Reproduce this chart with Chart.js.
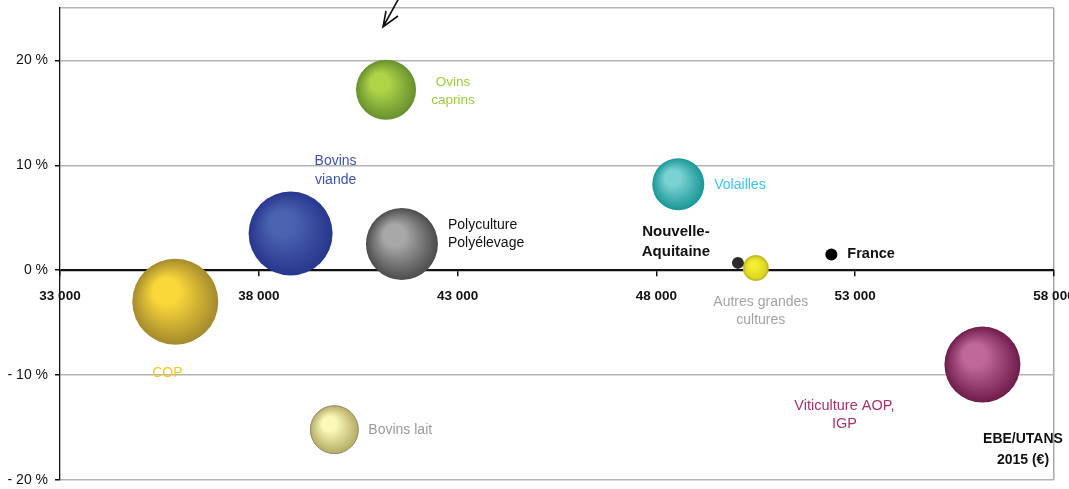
<!DOCTYPE html>
<html>
<head>
<meta charset="utf-8">
<script src="https://cdn.jsdelivr.net/npm/chart.js@4/dist/chart.umd.min.js"></script>
<style>
  html, body { margin: 0; padding: 0; background: #fff; }
  #wrap { width: 1069px; height: 489px; }
</style>
</head>
<body>
<div id="wrap"><canvas id="myChart"></canvas></div>
<script>
// orientations technico-economiques : EBE/UTANS 2015 (x) et evolution (y)
const groups = ['COP', 'Bovins viande', 'Polyculture Polyélevage', 'Ovins caprins', 'Bovins lait',
    'Volailles', 'Autres grandes cultures', 'Viticulture AOP, IGP', 'Nouvelle-Aquitaine', 'France'];
const ebe = [35900, 38800, 41600, 41200, 39900, 48550, 50500, 56200, 50050, 52400];
const evolution = [-3.0, 3.5, 2.5, 17.2, -15.2, 8.2, 0.2, -9.0, 0.7, 1.5];
const bubbleSize = [43, 42, 36, 30, 24, 26, 12, 38, 6, 6];
const xTicks = [33000, 38000, 43000, 48000, 53000, 58000];
const yTicks = [-20, -10, 0, 10, 20];

// couleurs des bulles : centre clair, bord fonce
const inner = ['#fbd83a', '#4a62b0', '#a8a8a8', '#b0d448', '#fbf8b8', '#7ad2d2', '#f4ee30', '#c0689a', '#2a2a2a', '#000000'];
const outer = ['#a48a2c', '#27368e', '#4c4c4c', '#66902e', '#b4ac64', '#1a9696', '#d8d020', '#6e1c4c', '#2a2a2a', '#000000'];
const rim = ['rgba(0,0,0,0)', 'rgba(0,0,0,0)', 'rgba(0,0,0,0)', 'rgba(0,0,0,0)', '#8a8a70',
    'rgba(0,0,0,0)', '#c4bc28', 'rgba(0,0,0,0)', 'rgba(0,0,0,0)', 'rgba(0,0,0,0)'];

// etiquettes : lignes, couleur, decalage par rapport a la bulle, alignement
const labelLines = [['COP'], ['Bovins', 'viande'], ['Polyculture', 'Polyélevage'], ['Ovins', 'caprins'], ['Bovins lait'],
    ['Volailles'], ['Autres grandes', 'cultures'], ['Viticulture AOP,', 'IGP'], ['Nouvelle-', 'Aquitaine'], ['France']];
const labelColor = ['#f7c81e', '#3f52a8', '#111111', '#9ccc3c', '#9a9a9a', '#3cc4ee', '#a4a4a4', '#a8326e', '#111111', '#111111'];
const labelStyle = [
    { dx: -8, dy: 71, align: 'center', size: 14 },
    { dx: 45, dy: -72, align: 'center', size: 14 },
    { dx: 46, dy: -19, align: 'left', size: 14 },
    { dx: 67, dy: -8, align: 'center', size: 13.5 },
    { dx: 34, dy: 0, align: 'left', size: 14 },
    { dx: 36, dy: 1, align: 'left', size: 14 },
    { dx: 5, dy: 34, align: 'center', size: 14 },
    { dx: -138, dy: 41, align: 'center', size: 14.5 },
    { dx: -62, dy: -31, align: 'center', size: 15, bold: true },
    { dx: 16, dy: 0, align: 'left', size: 14.5, bold: true }
];

// pas de marge automatique autour de la zone de trace pour les bulles
Chart.BubbleController.prototype.getMaxOverflow = function () { return 0; };

function fillBubble(context) {
    const chart = context.chart;
    const i = context.dataIndex;
    const p = context.raw;
    if (!chart.chartArea || !chart.scales.x || !p) return outer[i];
    const x = chart.scales.x.getPixelForValue(p.x);
    const y = chart.scales.y.getPixelForValue(p.y);
    const r = p.r;
    const g = chart.ctx.createRadialGradient(x - 0.3 * r, y - 0.35 * r, 0, x, y, r);
    g.addColorStop(0, inner[i]);
    g.addColorStop(0.3, inner[i]);
    g.addColorStop(1, outer[i]);
    return g;
}

const labelPlugin = {
    id: 'bubbleLabels',
    afterDatasetsDraw(chart) {
        const ctx = chart.ctx;
        const xs = chart.scales.x, ys = chart.scales.y;
        ctx.save();
        ctx.textBaseline = 'middle';
        groups.forEach(function (g, i) {
            const st = labelStyle[i];
            const x = xs.getPixelForValue(ebe[i]) + st.dx;
            const y = ys.getPixelForValue(evolution[i]) + st.dy;
            ctx.font = (st.bold ? 'bold ' : '') + st.size + 'px "Liberation Sans", Arial, sans-serif';
            ctx.fillStyle = labelColor[i];
            ctx.textAlign = st.align;
            const lh = st.bold ? 20 : 18.5;
            labelLines[i].forEach(function (line, k) {
                ctx.fillText(line, x, y + k * lh);
            });
        });

        // titre de l'axe des abscisses
        ctx.font = 'bold 14px "Liberation Sans", Arial, sans-serif';
        ctx.fillStyle = '#111';
        ctx.textAlign = 'center';
        ctx.fillText('EBE/UTANS', chart.chartArea.right - 31, 439);
        ctx.fillText('2015 (€)', chart.chartArea.right - 31, 460);

        // fleche en haut
        ctx.strokeStyle = '#111';
        ctx.lineWidth = 1.6;
        ctx.beginPath();
        ctx.moveTo(399, -2);
        ctx.lineTo(383, 27);
        ctx.moveTo(386, 11);
        ctx.lineTo(383, 27);
        ctx.lineTo(398, 16);
        ctx.stroke();
        ctx.restore();
    }
};

const ctx = document.getElementById('myChart').getContext('2d');
new Chart(ctx, {
    type: 'bubble',
    data: {
        datasets: [{
            label: 'OTEX',
            data: groups.map(function (g, i) {
                return { x: ebe[i], y: evolution[i], r: bubbleSize[i] };
            }),
            backgroundColor: fillBubble,
            borderColor: rim,
            borderWidth: [0, 0, 0, 0, 1, 0, 2, 0, 0, 0],
            hoverRadius: 0,
            clip: false
        }]
    },
    options: {
        responsive: true,
        maintainAspectRatio: false,
        animation: false,
        events: [],
        layout: { padding: { top: 8, right: 15, bottom: 9, left: 0 } },
        plugins: {
            legend: { display: false },
            tooltip: { enabled: false }
        },
        scales: {
            x: {
                type: 'linear',
                position: { y: 0 },
                min: xTicks[0],
                max: xTicks[xTicks.length - 1],
                afterBuildTicks: function (axis) {
                    axis.ticks = xTicks.map(function (v) { return { value: v }; });
                },
                afterFit: function (axis) {
                    axis.height = 0;
                    axis.paddingLeft = 0;
                    axis.paddingRight = 0;
                },
                border: { color: '#111', width: 1.3 },
                grid: {
                    drawOnChartArea: true,
                    color: function (c) {
                        return c.tick && c.tick.value === xTicks[xTicks.length - 1] ? '#a8a8a8' : 'rgba(0,0,0,0)';
                    },
                    lineWidth: 1.5,
                    tickColor: '#111',
                    tickLength: 5
                },
                ticks: {
                    padding: 13,
                    maxRotation: 0,
                    color: '#111',
                    font: { family: '"Liberation Sans", Arial, sans-serif', size: 13.5, weight: 'bold' },
                    callback: function (v) {
                        return String(v).replace(/\B(?=(\d{3})+(?!\d))/g, ' ');
                    }
                }
            },
            y: {
                type: 'linear',
                min: -20,
                max: 25,
                afterBuildTicks: function (axis) {
                    axis.ticks = yTicks.concat([25]).map(function (v) { return { value: v }; });
                },
                afterFit: function (axis) {
                    axis.width = 60;
                    axis.paddingTop = 0;
                    axis.paddingBottom = 0;
                },
                border: { color: '#111', width: 1.3 },
                grid: {
                    color: function (c) {
                        return c.tick && c.tick.value === 0 ? '#111' : '#b4b4b4';
                    },
                    lineWidth: 1.5,
                    tickColor: function (c) {
                        return c.tick && c.tick.value === 25 ? 'rgba(0,0,0,0)' : '#111';
                    },
                    tickLength: 5
                },
                ticks: {
                    padding: 7,
                    color: '#111',
                    font: { family: '"Liberation Sans", Arial, sans-serif', size: 14 },
                    callback: function (v) {
                        if (v === 25) return '';
                        return v < 0 ? '- ' + Math.abs(v) + ' %' : v + ' %';
                    }
                }
            }
        }
    },
    plugins: [labelPlugin]
});
</script>
</body>
</html>
